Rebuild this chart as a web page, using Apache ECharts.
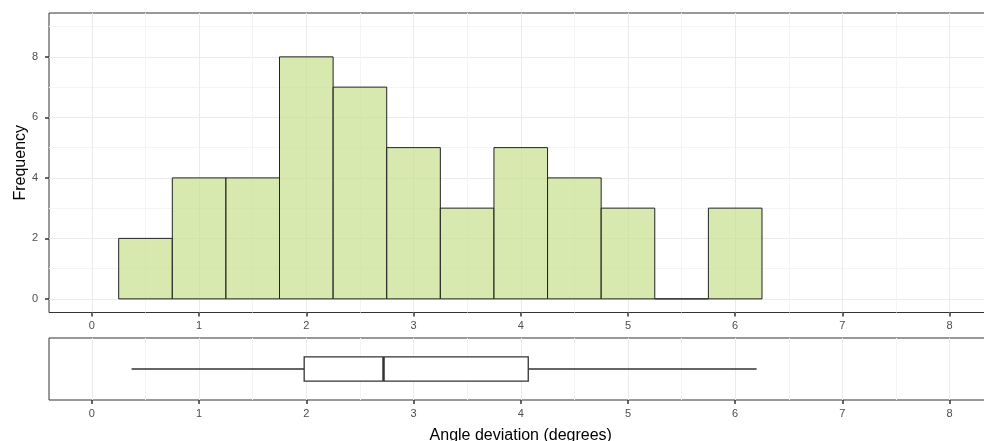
<!DOCTYPE html>
<html>
<head>
<meta charset="utf-8">
<script src="https://cdn.jsdelivr.net/npm/echarts@6/dist/echarts.min.js"></script>
<style>
html,body{margin:0;padding:0;background:#fff;}
#chart{width:984px;height:441px;}
</style>
</head>
<body>
<div id="chart"></div>
<script>
// Histogram bins (degrees) and counts
const binStarts = [0.25, 0.75, 1.25, 1.75, 2.25, 2.75, 3.25, 3.75, 4.25, 4.75, 5.25, 5.75];
const binEnds   = [0.75, 1.25, 1.75, 2.25, 2.75, 3.25, 3.75, 4.25, 4.75, 5.25, 5.75, 6.25];
const counts    = [2, 4, 4, 8, 7, 5, 3, 5, 4, 3, 0, 3];
// Boxplot stats: lower whisker, Q1, median, Q3, upper whisker
const boxStats  = [0.37, 1.98, 2.72, 4.07, 6.20];
// Tick / grid positions
const xTickValues  = [0, 1, 2, 3, 4, 5, 6, 7, 8];
const xMinorValues = [0.5, 1.5, 2.5, 3.5, 4.5, 5.5, 6.5, 7.5];
const yTickValues  = [0, 2, 4, 6, 8];
const yMinorValues = [1, 3, 5, 7, 9];

const histData = binStarts.map((s, i) => [s, binEnds[i], counts[i]]);

const FONT = '"Liberation Sans", Arial, sans-serif';
const tickColor = '#333333';
const labelColor = '#4d4d4d';
const gridMajor = '#ebebeb';
const gridMinor = '#f4f4f4';

const X_MIN = -0.4, X_MAX = 8.4;

function xMajor(gridIndex, extra) {
  return Object.assign({
    gridIndex: gridIndex,
    type: 'value',
    position: 'bottom',
    min: X_MIN,
    max: X_MAX,
    axisLine: { show: false, onZero: false },
    axisTick: { show: true, length: 4, customValues: xTickValues, lineStyle: { color: tickColor, width: 1.5 } },
    axisLabel: { show: true, customValues: xTickValues, color: labelColor, fontSize: 11, fontFamily: FONT, margin: 8 },
    splitLine: { show: true, lineStyle: { color: gridMajor, width: 1 } }
  }, extra || {});
}
function xMinor(gridIndex) {
  return {
    gridIndex: gridIndex,
    type: 'value',
    position: 'top',
    min: X_MIN,
    max: X_MAX,
    axisLine: { show: false, onZero: false },
    axisTick: { show: false, customValues: xMinorValues },
    axisLabel: { show: false, customValues: xMinorValues },
    splitLine: { show: true, lineStyle: { color: gridMinor, width: 1 } }
  };
}

const option = {
  animation: false,
  backgroundColor: '#ffffff',
  grid: [
    { left: 49, right: -8.5, top: 13, height: 299.5, show: true, borderColor: '#333333', borderWidth: 1, backgroundColor: 'transparent', containLabel: false, outerBoundsMode: 'none' },
    { left: 49, right: -8.5, top: 338, height: 62, show: true, borderColor: '#333333', borderWidth: 1, backgroundColor: 'transparent', containLabel: false, outerBoundsMode: 'none' }
  ],
  xAxis: [
    xMajor(0),
    xMinor(0),
    xMajor(1, {
      name: 'Angle deviation (degrees)',
      nameLocation: 'middle',
      nameGap: 28,
      nameTextStyle: { color: '#000000', fontSize: 16, fontFamily: FONT }
    }),
    xMinor(1)
  ],
  yAxis: [
    {
      gridIndex: 0,
      type: 'value',
      position: 'left',
      min: -0.45,
      max: 9.45,
      name: 'Frequency',
      nameLocation: 'middle',
      nameGap: 20,
      nameMoveOverlap: false,
      nameTextStyle: { color: '#000000', fontSize: 16, fontFamily: FONT },
      axisLine: { show: false, onZero: false },
      axisTick: { show: true, length: 4, customValues: yTickValues, lineStyle: { color: tickColor, width: 1.5 } },
      axisLabel: { show: true, customValues: yTickValues, color: labelColor, fontSize: 11, fontFamily: FONT, margin: 11 },
      splitLine: { show: true, lineStyle: { color: gridMajor, width: 1 } }
    },
    {
      gridIndex: 0,
      type: 'value',
      position: 'right',
      min: -0.45,
      max: 9.45,
      axisLine: { show: false, onZero: false },
      axisTick: { show: false, customValues: yMinorValues },
      axisLabel: { show: false, customValues: yMinorValues },
      splitLine: { show: true, lineStyle: { color: gridMinor, width: 1 } }
    },
    {
      gridIndex: 1,
      type: 'value',
      min: 0,
      max: 1,
      axisLine: { show: false, onZero: false },
      axisTick: { show: false },
      axisLabel: { show: false },
      splitLine: { show: false }
    }
  ],
  series: [
    {
      type: 'custom',
      xAxisIndex: 0,
      yAxisIndex: 0,
      data: histData,
      encode: { x: [0, 1], y: 2 },
      renderItem: function (params, api) {
        const p1 = api.coord([api.value(0), api.value(2)]);
        const p2 = api.coord([api.value(1), 0]);
        return {
          type: 'rect',
          shape: { x: p1[0], y: p1[1], width: p2[0] - p1[0], height: p2[1] - p1[1] },
          style: { fill: 'rgba(200,224,143,0.7)', stroke: '#222222', lineWidth: 1 }
        };
      }
    },
    {
      type: 'custom',
      xAxisIndex: 2,
      yAxisIndex: 2,
      data: [boxStats],
      encode: { x: [0, 1, 2, 3, 4] },
      renderItem: function (params, api) {
        const lo = api.value(0), q1 = api.value(1), med = api.value(2), q3 = api.value(3), hi = api.value(4);
        const yc = api.coord([0, 0.5])[1];
        const yt = api.coord([0, 0.694])[1];
        const yb = api.coord([0, 0.306])[1];
        const xlo = api.coord([lo, 0.5])[0];
        const xq1 = api.coord([q1, 0.5])[0];
        const xmed = api.coord([med, 0.5])[0];
        const xq3 = api.coord([q3, 0.5])[0];
        const xhi = api.coord([hi, 0.5])[0];
        const lineStyle = { stroke: '#333333', lineWidth: 1.3, fill: null };
        return {
          type: 'group',
          children: [
            { type: 'line', shape: { x1: xlo, y1: yc, x2: xq1, y2: yc }, style: lineStyle },
            { type: 'line', shape: { x1: xq3, y1: yc, x2: xhi, y2: yc }, style: lineStyle },
            { type: 'rect', shape: { x: xq1, y: yt, width: xq3 - xq1, height: yb - yt }, style: { fill: '#ffffff', stroke: '#333333', lineWidth: 1.3 } },
            { type: 'line', shape: { x1: xmed, y1: yt, x2: xmed, y2: yb }, style: { stroke: '#333333', lineWidth: 2.5 } }
          ]
        };
      }
    }
  ]
};

const chart = echarts.init(document.getElementById('chart'), null, { renderer: 'canvas' });
chart.setOption(option);
</script>
</body>
</html>
